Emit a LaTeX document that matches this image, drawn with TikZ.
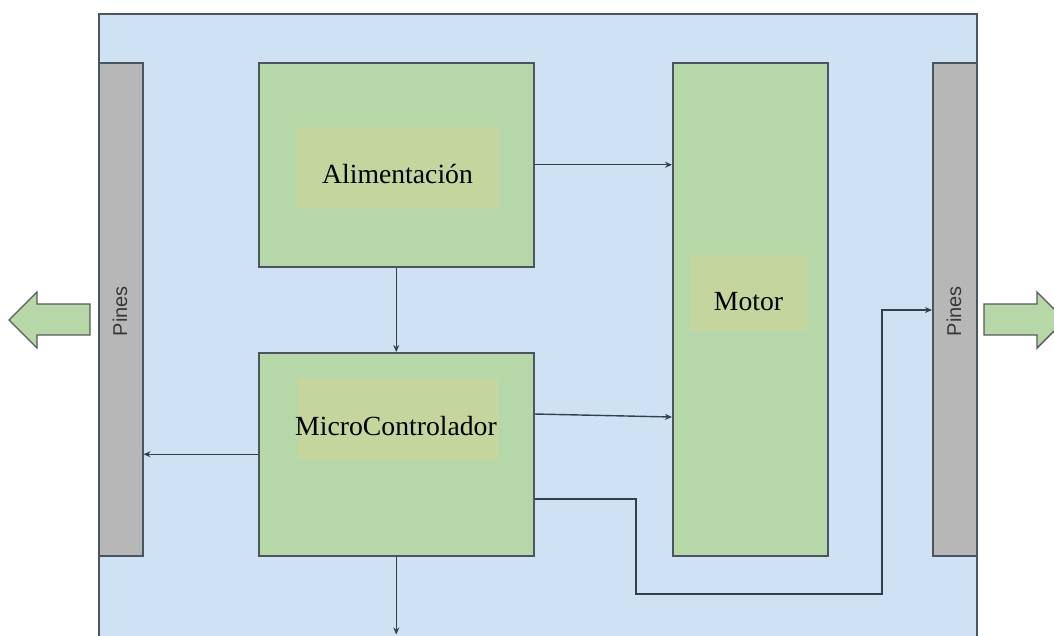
\documentclass[tikz,border=0pt]{standalone}
\usepackage{fontspec}
\setmainfont{Liberation Serif}
\newfontfamily\pinfont{Liberation Sans}
\usetikzlibrary{arrows.meta,calc}
\definecolor{bgblue}{HTML}{CFE2F3}
\definecolor{boxgreen}{HTML}{B6D7A8}
\definecolor{lblgreen}{HTML}{C4D69D}
\definecolor{pingray}{HTML}{B7B7B7}
\definecolor{edge}{HTML}{4A5560}
\definecolor{wire}{HTML}{34404C}
\begin{document}
\begin{tikzpicture}[x=1pt,y=-1pt,
  box/.style={draw=edge,line width=1.5pt,fill=boxgreen,anchor=north west,inner sep=0pt},
  lbl/.style={fill=lblgreen,anchor=north west,inner sep=0pt},
  pins/.style={draw=edge,line width=1.5pt,fill=pingray,anchor=north west,inner sep=0pt,minimum width=44pt,minimum height=493pt},
  pintxt/.style={rotate=90,font=\pinfont\fontsize{20}{20}\selectfont,text=black!78},
  txt/.style={anchor=base,font=\fontsize{27.7}{28}\selectfont,inner sep=0pt},
  wireline/.style={draw=wire,line width=1.4pt,-{Stealth[length=7pt,width=6pt]}},
  bigarrow/.style={draw=gray!70!black,line width=1.4pt,fill=boxgreen}]
\useasboundingbox (0,0) rectangle (1054,635);
\clip (0,0) rectangle (1054,635);
% background board
\node[draw=edge,line width=1.5pt,fill=bgblue,anchor=north west,inner sep=0pt,
  minimum width=878pt,minimum height=640pt] (board) at (98,13) {};
% pins
\node[pins] (pinsL) at (98,62) {};
\node[pins] (pinsR) at (932,62) {};
\node[pintxt] (pinsLt) at (120,311) {Pines};
\node[pintxt] (pinsRt) at (954,311) {Pines};
% blocks
\node[box,minimum width=275pt,minimum height=204pt] (alim) at (258,62) {};
\node[box,minimum width=275pt,minimum height=203pt] (micro) at (258,352) {};
\node[box,minimum width=155pt,minimum height=493pt] (motor) at (672,62) {};
% label patches
\node[lbl,minimum width=202pt,minimum height=81pt] (alimL) at (297,127) {};
\node[lbl,minimum width=200pt,minimum height=82pt] (microL) at (298,378) {};
\node[lbl,minimum width=118pt,minimum height=75pt] (motorL) at (690,255) {};
\node[txt] (alimT) at (397.5,183) {Alimentación};
\node[txt] (microT) at (396,435) {MicroControlador};
\node[txt] (motorT) at (748.5,310) {Motor};
% big green arrows
\draw[bigarrow] (9,320) -- (37,292) -- (37,304) -- (90,304) -- (90,335) -- (37,335) -- (37,348) -- cycle;
\draw[bigarrow] (1065,320) -- (1037,292) -- (1037,304) -- (984,304) -- (984,335) -- (1037,335) -- (1037,348) -- cycle;
% connectors
\coordinate (mmA) at ($(micro.north east)+(0,62)$);
\coordinate (mrA) at ($(micro.north east)+(0,147)$);
\coordinate (mrB) at (636,499);
\coordinate (mrC) at (636,594);
\coordinate (mrD) at (882,594);
\coordinate (mrE) at (882,310);
\coordinate (bot) at ($(micro.south)+(0,78)$);
\draw[wireline] (alim.east) -- (alim.east -| motor.west);
\draw[wireline] (alim.south) -- (micro.north);
\draw[wireline] (mmA) -- ($(mmA -| motor.west)+(0,3)$);
\draw[wireline] (micro.west) -- (micro.west -| pinsL.east);
\draw[wireline] (micro.south) -- (bot);
\draw[wireline] (mrA) -- (mrB) -- (mrC) -- (mrD) -- (mrE) -- (mrE -| pinsR.west);
\end{tikzpicture}
\end{document}
